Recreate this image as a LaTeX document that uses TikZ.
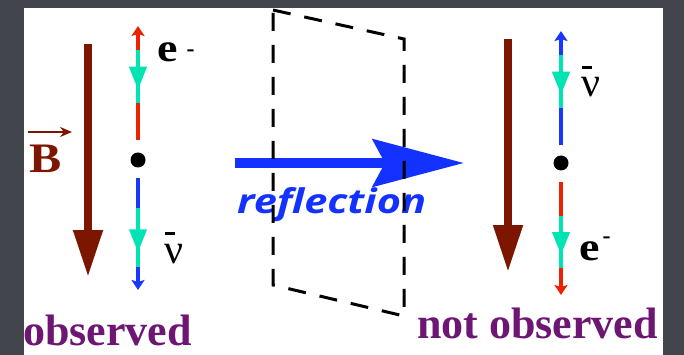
\documentclass[tikz,border=0pt]{standalone}
\usepackage{fontspec}
\setmainfont{Liberation Serif}
\newfontfamily\reflfont{Open Sans}
\usetikzlibrary{arrows.meta,decorations.markings}

\definecolor{bgrey}{RGB}{66,69,75}
\definecolor{fieldbrown}{RGB}{125,22,0}
\definecolor{lepred}{RGB}{235,35,0}
\definecolor{lepmint}{RGB}{0,228,180}
\definecolor{lepblue}{RGB}{25,55,255}
\definecolor{reflblue}{RGB}{20,50,255}
\definecolor{labpurple}{RGB}{110,22,115}

\newcommand*{\nubar}{{\mdseries\rlap{\hspace{1pt}\rule[28pt]{10pt}{3pt}}ν}}
\newcommand*{\supminus}[1]{\raisebox{#1}{\fontsize{24}{24}\selectfont -}}

\begin{document}
\begin{tikzpicture}
[
	x=1pt,y=-1pt,
	field/.style={draw=fieldbrown,line width=8pt,-{Triangle[length=47pt,width=28pt]}},
	lepton/.style={line width=4pt,-{Stealth[length=10pt,width=13pt,inset=2pt]}},
	spin/.style={draw=lepmint,line width=4pt,postaction={decorate},
		decoration={markings,mark=at position 0.75 with {\arrow[lepmint]{Triangle[length=23pt,width=17pt]}}}},
	decay/.style={circle,fill,inner sep=0pt,minimum size=15pt},
	particle/.style={anchor=base west,inner sep=0pt,font=\fontsize{40}{40}\selectfont\bfseries},
	verdict/.style={anchor=base west,inner sep=0pt,text=labpurple,font=\fontsize{44}{44}\selectfont\bfseries}
]

	% page
	\fill[bgrey] (0,0) rectangle (684,355);
	\fill[white] (24,8) rectangle (663,355);
	\useasboundingbox (0,0) rectangle (684,355);

	% observed side
	\draw[field] (88,44) -- (88,277);
	\coordinate (bvecS) at (28,132);
	\coordinate (bvecE) at (72,132);
	\draw[fieldbrown,line width=2pt,-{Stealth[length=12pt,width=10pt]}] (bvecS) -- (bvecE);
	\node[particle,text=fieldbrown,font=\fontsize{42}{42}\selectfont\bfseries] (lblB) at (29,173) {\scalebox{1.15}[1]{B}};

	\node[decay] (vtxL) at (138,160) {};
	\coordinate (eL) at (138,26);
	\coordinate (nuL) at (138,290);
	\draw[lepton,lepred,shorten <=12pt] (vtxL) -- (eL);
	\draw[lepton,lepblue,shorten <=10pt] (vtxL) -- (nuL);
	\draw[spin] (138,50) -- (138,103);
	\draw[spin] (138,208) -- (138,267);
	\node[particle] (lblEL) at (157,62) {\scalebox{1.15}[1]{e}\hspace{9pt}\supminus{5pt}};
	\node[particle,font=\fontsize{42}{42}\selectfont] (lblNuL) at (164,263) {\nubar};

	% mirror and reflection
	\coordinate (reflS) at (235,163);
	\coordinate (reflE) at (464,163);
	\draw[reflblue,line width=10pt,-{Stealth[length=91pt,width=47pt,inset=12pt]}] (reflS) -- (reflE);
	\node[anchor=base west,inner sep=0pt,text=reflblue,font=\reflfont\fontsize{34}{34}\selectfont\bfseries\itshape] (lblRefl) at (237,213) {\scalebox{1.22}[1]{reflection}};
	\draw[line width=3pt,dash pattern=on 18pt off 14pt] (273,10) -- (404,39) -- (404,316) -- (273,285) -- cycle;

	% mirrored side
	\draw[field] (508,39) -- (508,272);

	\node[decay] (vtxR) at (561,163) {};
	\coordinate (nuR) at (561,31);
	\coordinate (eR) at (561,295);
	\draw[lepton,lepblue,shorten <=10pt] (vtxR) -- (nuR);
	\draw[lepton,lepred,shorten <=11pt] (vtxR) -- (eR);
	\draw[spin] (561,55) -- (561,108);
	\draw[spin] (561,216) -- (561,268);
	\node[particle,font=\fontsize{42}{42}\selectfont] (lblNuR) at (581,97) {\nubar};
	\node[particle] (lblER) at (579,260) {\scalebox{1.15}[1]{e}\hspace{3pt}\supminus{17pt}};

	% verdicts
	\node[verdict] (obsL) at (23,345) {observed};
	\node[verdict] (obsR) at (417,338) {not observed};

\end{tikzpicture}
\end{document}
